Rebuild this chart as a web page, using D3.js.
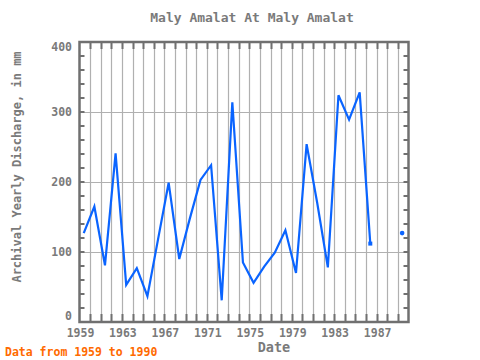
<!DOCTYPE html>
<html>
<head>
<meta charset="utf-8">
<script src="https://cdn.jsdelivr.net/npm/d3@7"></script>
<style>
body{margin:0;background:#fff;}
svg{display:block;}
text{font-family:"DejaVu Sans Mono","Liberation Mono",monospace;}
</style>
</head>
<body>
<svg id="chart" width="480" height="360"></svg>
<script>
const years = [1959,1960,1961,1962,1963,1964,1965,1966,1967,1968,1969,1970,1971,1972,1973,1974,1975,1976,1977,1978,1979,1980,1981,1982,1983,1984,1985,1986,1987,1988,1989];
const discharge = [127,165,81,241,53,77,37,118,199,90,148,203,224,31,314,85,56,79,99,131,70,254,170,78,324,289,328,112,null,null,127];
const xTickYears = [1959,1963,1967,1971,1975,1979,1983,1987];
const yTicks = [0,100,200,300,400];
const titleText = "Maly Amalat At Maly Amalat";
const xLabel = "Date";
const yLabel = "Archival Yearly Discharge, in mm";
const noteText = "Data from 1959 to 1990";

const svg = d3.select("#chart");
const L = 79.5, R = 408.5, T = 42, B = 322;
const x = d3.scaleLinear().domain([1959, 1990]).range([L, R]);
const y = d3.scaleLinear().domain([0, 400]).range([B, T]);
const frameColor = "#707070", gridColor = "#b0b0b0", textColor = "#7a7a7a", lineColor = "#0a64ff";
const dateOffset = 0.4;

// grid
const g = svg.append("g");
g.selectAll("line.vg").data(d3.range(1960, 1990)).enter().append("line")
  .attr("x1", d => Math.round(x(d)) + 0.5).attr("x2", d => Math.round(x(d)) + 0.5)
  .attr("y1", T).attr("y2", B).attr("stroke", gridColor).attr("stroke-width", 1.2);
g.selectAll("line.hg").data([100,200,300]).enter().append("line")
  .attr("x1", L).attr("x2", R).attr("y1", d => Math.round(y(d)) + 0.5).attr("y2", d => Math.round(y(d)) + 0.5)
  .attr("stroke", gridColor).attr("stroke-width", 1.2);

// ticks top & bottom each year
const yrTicks = d3.range(1960, 1990);
g.selectAll("line.tt").data(yrTicks).enter().append("line")
  .attr("x1", d => Math.round(x(d)) + 0.5).attr("x2", d => Math.round(x(d)) + 0.5)
  .attr("y1", T).attr("y2", T + 7).attr("stroke", frameColor).attr("stroke-width", 2);
g.selectAll("line.bt").data(yrTicks).enter().append("line")
  .attr("x1", d => Math.round(x(d)) + 0.5).attr("x2", d => Math.round(x(d)) + 0.5)
  .attr("y1", B).attr("y2", B - 8).attr("stroke", frameColor).attr("stroke-width", 2);
// minor ticks left & right every 20
const minor = d3.range(20, 400, 20);
g.selectAll("line.lt").data(minor).enter().append("line")
  .attr("x1", L).attr("x2", L + 5).attr("y1", d => y(d)).attr("y2", d => y(d))
  .attr("stroke", frameColor).attr("stroke-width", 2);
g.selectAll("line.rt").data(minor).enter().append("line")
  .attr("x1", R).attr("x2", R - 5).attr("y1", d => y(d)).attr("y2", d => y(d))
  .attr("stroke", frameColor).attr("stroke-width", 2);

// data line
const pts = years.map((yr, i) => ({yr, v: discharge[i]}));
const line = d3.line().defined(d => d.v !== null)
  .x(d => x(d.yr + dateOffset)).y(d => y(d.v));
svg.append("path").datum(pts).attr("d", line)
  .attr("fill", "none").attr("stroke", lineColor).attr("stroke-width", 2.2)
  .attr("stroke-linejoin", "miter");
// isolated points
const iso = pts.filter((d, i) => d.v !== null && (i === 0 || pts[i-1].v === null) && (i === pts.length-1 || pts[i+1].v === null));
svg.selectAll("circle.iso").data(iso).enter().append("circle")
  .attr("cx", d => x(d.yr + dateOffset)).attr("cy", d => y(d.v)).attr("r", 2.3).attr("fill", lineColor);
// segment end marker
const ends = pts.filter((d, i) => d.v !== null && i > 0 && pts[i-1].v !== null && i < pts.length-1 && pts[i+1].v === null);
svg.selectAll("rect.end").data(ends).enter().append("rect")
  .attr("x", d => x(d.yr + dateOffset) - 2).attr("y", d => y(d.v) - 2).attr("width", 4).attr("height", 4).attr("fill", lineColor);

// frame
svg.append("rect").attr("x", L).attr("y", T).attr("width", R - L).attr("height", B - T)
  .attr("fill", "none").attr("stroke", frameColor).attr("stroke-width", 2.5);

// axis labels
svg.selectAll("text.xt").data(xTickYears).enter().append("text")
  .attr("x", d => x(d) + 1).attr("y", 337).attr("text-anchor", "middle")
  .attr("font-size", 11.5).attr("font-weight", "bold").attr("fill", textColor).text(d => d);
svg.selectAll("text.yt").data(yTicks).enter().append("text")
  .attr("x", 72).attr("y", d => Math.min(Math.max(y(d), T + 5), B - 6) + 4)
  .attr("text-anchor", "end").attr("font-size", 11.5).attr("font-weight", "bold").attr("fill", textColor).text(d => d);

svg.append("text").attr("x", 252).attr("y", 22).attr("text-anchor", "middle")
  .attr("font-size", 13).attr("font-weight", "bold").attr("fill", textColor).text(titleText);
svg.append("text").attr("x", 274).attr("y", 352).attr("text-anchor", "middle")
  .attr("font-size", 13.5).attr("font-weight", "bold").attr("fill", textColor).text(xLabel);
svg.append("text").attr("transform", "translate(21,167) rotate(-90)").attr("text-anchor", "middle")
  .attr("font-size", 12).attr("font-weight", "bold").attr("fill", textColor).text(yLabel);
svg.append("text").attr("x", 5).attr("y", 356).attr("text-anchor", "start")
  .attr("font-size", 11.5).attr("font-weight", "bold").attr("fill", "#ff6a00").text(noteText);
</script>
</body>
</html>
